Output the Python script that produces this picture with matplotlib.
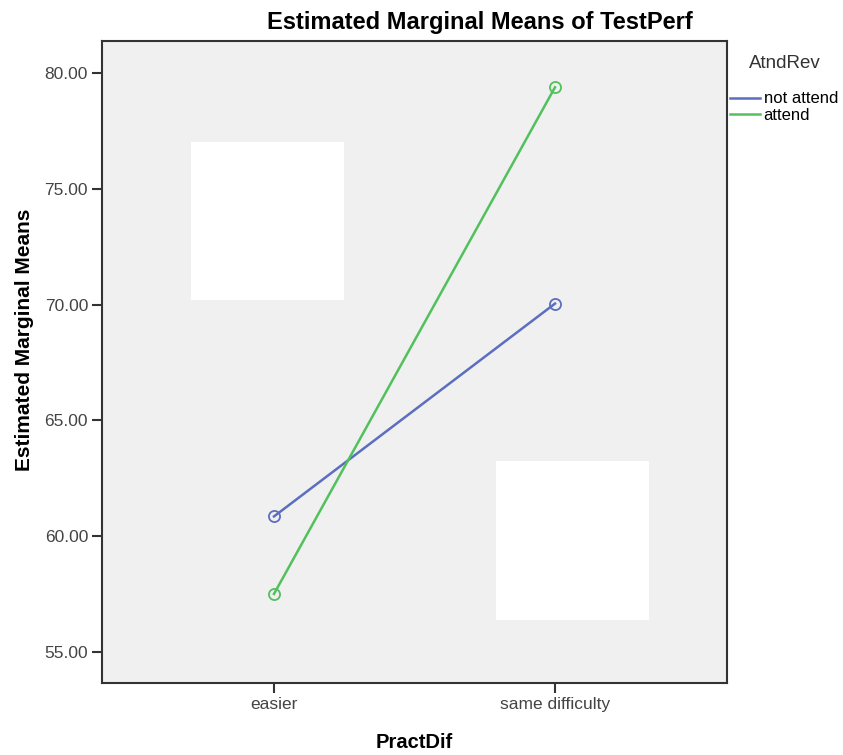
import matplotlib
matplotlib.use('Agg')
import matplotlib.pyplot as plt
import matplotlib.patches as mpatches

plt.rcParams['font.family'] = ['Liberation Sans', 'DejaVu Sans']

# Data
practdif = ['easier', 'same difficulty']
not_attend = [60.85, 70.05]
attend = [57.5, 79.4]
yticks = [55, 60, 65, 70, 75, 80]

fig = plt.figure(figsize=(8.43, 7.55), dpi=100)
ax = fig.add_axes([102/843, 1 - 683/755, 625/843, 642/755])
ax.set_facecolor('#f0f0f0')

# erased patches in the source image
for x0, y0, w, h in [(0.142, 0.597, 0.245, 0.246), (0.630, 0.098, 0.245, 0.248)]:
    ax.add_patch(mpatches.Rectangle((x0, y0), w, h, transform=ax.transAxes,
                                    facecolor='white', edgecolor='none', zorder=0.5))

xs = list(range(len(practdif)))
ax.plot(xs, not_attend, color='#5b6ec0', lw=1.8, marker='o', ms=8,
        mfc='none', mew=1.3, label='not attend', zorder=3)
ax.plot(xs, attend, color='#52c15c', lw=1.8, marker='o', ms=8,
        mfc='none', mew=1.3, label='attend', zorder=3)

ax.set_xlim(-0.612, 1.612)
ax.set_ylim(53.65, 81.4)
ax.set_xticks(xs)
ax.set_xticklabels(practdif)
ax.set_yticks(yticks)
ax.set_yticklabels(['%.2f' % v for v in yticks])
ax.tick_params(length=7, width=1.5, color='#333333', labelsize=12.5,
               labelcolor='#444444', pad=3)
for s in ax.spines.values():
    s.set_color('#333333')
    s.set_linewidth(1.5)

ax.set_xlabel('PractDif', fontsize=14.5, fontweight='bold', labelpad=15)
ax.set_ylabel('Estimated Marginal Means', fontsize=15, fontweight='bold')
ax.yaxis.set_label_coords(-0.108, 0.535)

fig.text(480/843, 1 - 22/755, 'Estimated Marginal Means of TestPerf',
         ha='center', va='center', fontsize=17, fontweight='bold')

# legend title drawn separately so the gap matches the reference
fig.text(785/843, 1 - 63/755, 'AtndRev', ha='center', va='center',
         fontsize=13.5, color='#333333')
leg = ax.legend(loc='upper left', bbox_to_anchor=(1.0, 1 - 47/642), frameon=False,
                fontsize=12, handlelength=1.8, handletextpad=0.2,
                labelspacing=0.1, borderaxespad=0.2, borderpad=0.0)
for line in leg.get_lines():
    line.set_marker('')

fig.savefig('out.png', dpi=100)
